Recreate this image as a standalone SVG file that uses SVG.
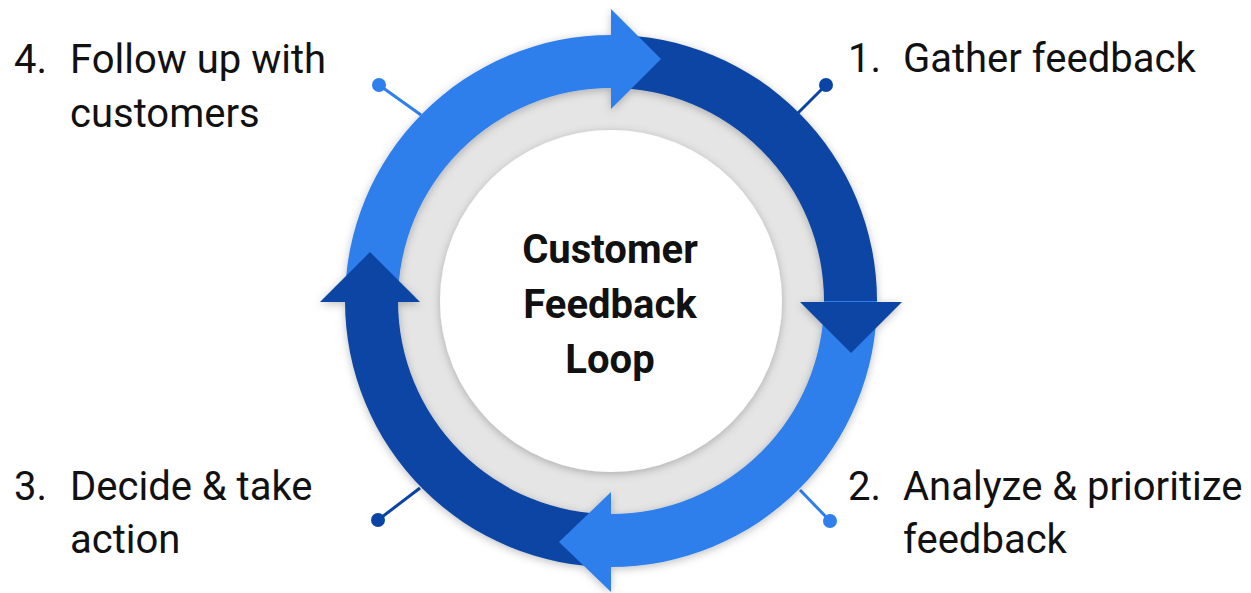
<svg xmlns="http://www.w3.org/2000/svg" width="1251" height="593" viewBox="0 0 1251 593">
<defs>
<style>
.lt{fill:#2f7fec}
.dk{fill:#0a44a5}
.lbl{font-family:Roboto,"Liberation Sans",sans-serif;font-size:40px;fill:#111}
.ttl{font-family:Roboto,"Liberation Sans",sans-serif;font-size:40px;font-weight:bold;fill:#111;text-anchor:middle}
.pinl{stroke:#2f7fec;stroke-width:3}
.pind{stroke:#0a44a5;stroke-width:3}
</style>
<filter id="sh" x="-20%" y="-20%" width="140%" height="140%">
<feDropShadow dx="0" dy="2" stdDeviation="4" flood-color="#000" flood-opacity="0.25"/>
</filter>
</defs>
<rect width="1251" height="593" fill="#fff"/>
<g id="hub">
<circle cx="611" cy="301" r="214" fill="#e5e5e5"/>
<circle cx="611" cy="301" r="171" fill="#fff" filter="url(#sh)"/>
<text class="ttl" x="610" y="263">Customer</text>
<text class="ttl" x="610" y="318">Feedback</text>
<text class="ttl" x="610" y="373">Loop</text>
</g>
<g id="connectors">
<line class="pinl" x1="379" y1="85" x2="421" y2="115"/>
<circle class="lt" cx="379" cy="85" r="7"/>
<line class="pind" x1="826" y1="85" x2="798" y2="113"/>
<circle class="dk" cx="826" cy="85" r="7"/>
<line class="pinl" x1="830" y1="521" x2="800" y2="490"/>
<circle class="lt" cx="830" cy="521" r="7"/>
<line class="pind" x1="378" y1="520" x2="420" y2="488"/>
<circle class="dk" cx="378" cy="520" r="7"/>
</g>
<g id="ring" filter="url(#sh)">
<path class="lt" d="M345 301A266 266 0 0 1 611 35L611 88A213 213 0 0 0 398 301Z"/>
<path class="dk" d="M611 35A266 266 0 0 1 877 301L824 301A213 213 0 0 0 611 88Z"/>
<path class="lt" d="M877 301A266 266 0 0 1 611 567L611 514A213 213 0 0 0 824 301Z"/>
<path class="dk" d="M611 567A266 266 0 0 1 345 301L398 301A213 213 0 0 0 611 514Z"/>
<polygon class="lt" points="611,9 661,59 611,109"/>
<polygon class="dk" points="800,302 902,302 851,353"/>
<polygon class="lt" points="611,492 611,592 559,542"/>
<polygon class="dk" points="320,302 420,302 370,252"/>
</g>
<g id="step1">
<text class="lbl" x="848" y="72">1.</text>
<text class="lbl" x="903" y="72">Gather feedback</text>
</g>
<g id="step2">
<text class="lbl" x="848" y="500">2.</text>
<text class="lbl" x="903" y="500">Analyze &amp; prioritize</text>
<text class="lbl" x="903" y="553">feedback</text>
</g>
<g id="step3">
<text class="lbl" x="14" y="500">3.</text>
<text class="lbl" x="70" y="500">Decide &amp; take</text>
<text class="lbl" x="70" y="553">action</text>
</g>
<g id="step4">
<text class="lbl" x="14" y="73">4.</text>
<text class="lbl" x="70" y="73">Follow up with</text>
<text class="lbl" x="70" y="127">customers</text>
</g>
</svg>
